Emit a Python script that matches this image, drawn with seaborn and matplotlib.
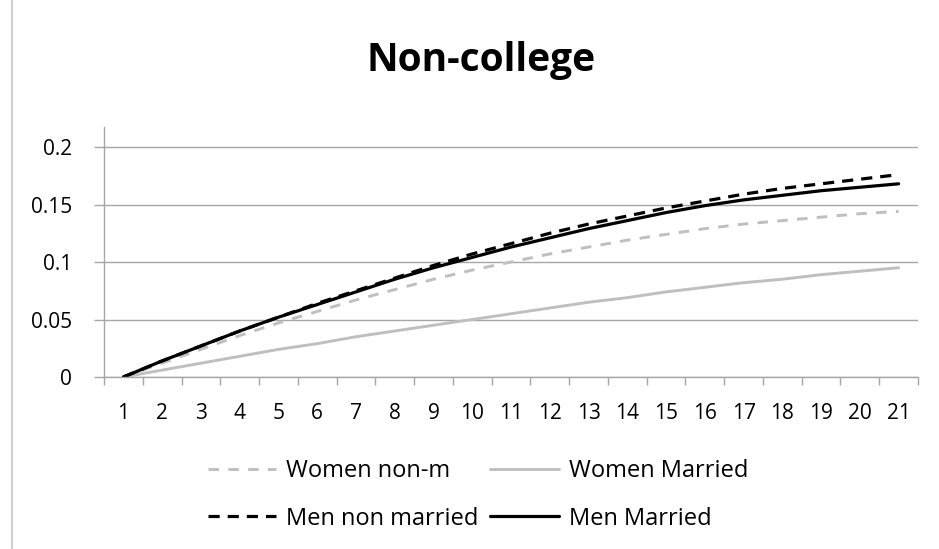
import numpy as np
import pandas as pd
import matplotlib
matplotlib.use('Agg')
import matplotlib.pyplot as plt
from matplotlib.lines import Line2D
import seaborn as sns


######
# Data
######
years = list(range(1, 22))
women_non_m = [0, 0.012, 0.024, 0.036, 0.047, 0.057, 0.067, 0.076, 0.085, 0.093, 0.100,
               0.107, 0.113, 0.119, 0.124, 0.129, 0.133, 0.136, 0.139, 0.142, 0.144]
women_married = [0, 0.006, 0.012, 0.018, 0.024, 0.029, 0.035, 0.040, 0.045, 0.050, 0.055,
                 0.060, 0.065, 0.069, 0.074, 0.078, 0.082, 0.085, 0.089, 0.092, 0.095]
men_non_married = [0, 0.014, 0.027, 0.040, 0.052, 0.064, 0.075, 0.086, 0.097, 0.107, 0.116,
                   0.125, 0.133, 0.140, 0.147, 0.153, 0.159, 0.164, 0.168, 0.172, 0.176]
men_married = [0, 0.014, 0.027, 0.040, 0.052, 0.063, 0.074, 0.085, 0.095, 0.104, 0.113,
               0.121, 0.129, 0.136, 0.143, 0.149, 0.154, 0.158, 0.162, 0.165, 0.168]
series_names = ['Women non-m', 'Women Married', 'Men non married', 'Men Married']
y_ticks = [0, 0.05, 0.1, 0.15, 0.2]
y_tick_labels = ['0', '0.05', '0.1', '0.15', '0.2']

df = pd.DataFrame({
    'year': years * 4,
    'value': women_non_m + women_married + men_non_married + men_married,
    'series': np.repeat(series_names, len(years)),
})

#######
# Style
#######
sns.set_theme(style='white')
plt.rcParams['font.family'] = ['Open Sans', 'DejaVu Sans']
plt.rcParams['text.color'] = 'black'
plt.rcParams['xtick.labelcolor'] = 'black'
plt.rcParams['ytick.labelcolor'] = 'black'

grey = '#bfbfbf'
palette = {'Women non-m': grey, 'Women Married': grey,
           'Men non married': 'black', 'Men Married': 'black'}
dashes = {'Women non-m': (3.6, 3.2), 'Women Married': '',
          'Men non married': (3.5, 2.5), 'Men Married': ''}
widths = {'Women non-m': 2.1, 'Women Married': 2.1,
          'Men non married': 2.3, 'Men Married': 2.3}

fig = plt.figure(figsize=(9.39, 5.49), dpi=100)
ax = fig.add_axes([104 / 939, 1 - 377 / 549, (918 - 104) / 939, (377 - 127) / 549])

sns.lineplot(data=df, x='year', y='value', hue='series', style='series',
             palette=palette, dashes=dashes, hue_order=series_names,
             style_order=series_names, ax=ax, legend=False)
for line, name in zip(ax.get_lines(), series_names):
    line.set_linewidth(widths[name])

ax.set_xlim(0.5, 21.5)
ax.set_ylim(0, 0.2174)
ax.set_xticks(years)
ax.set_xticklabels([str(y) for y in years], fontsize=15)
ax.set_xticks(np.arange(0.5, 22, 1), minor=True)
ax.tick_params(axis='x', which='major', length=0, pad=19)
ax.tick_params(axis='x', which='minor', length=6, color='#a6a6a6', width=1, direction='out', bottom=True)
ax.set_yticks(y_ticks)
ax.set_yticklabels(y_tick_labels, fontsize=15)
ax.tick_params(axis='y', length=7, color='#a6a6a6', width=1, direction='out', left=True, pad=16)
ax.yaxis.grid(True, color='#a6a6a6', linewidth=1)
ax.set_axisbelow(True)
for side in ['top', 'right']:
    ax.spines[side].set_visible(False)
for side in ['left', 'bottom']:
    ax.spines[side].set_color('#a6a6a6')
    ax.spines[side].set_linewidth(1)
ax.set_xlabel('')
ax.set_ylabel('')

fig.text(0.512, 1 - 60 / 549, 'Non-college', ha='center', va='center',
         fontsize=28, fontweight='bold', color='black')

# legend fills column-wise, so order gives rows: women / men
legend_order = ['Women non-m', 'Men non married', 'Women Married', 'Men Married']
handles = [Line2D([], [], color=palette[n], linewidth=widths[n],
                  dashes=dashes[n] if dashes[n] else (None, None)) for n in legend_order]
fig.legend(handles, legend_order, ncol=2, loc='center',
           bbox_to_anchor=(478 / 939, 1 - 495 / 549), frameon=False, fontsize=17,
           handlelength=2.9, columnspacing=0.5, handletextpad=0.42, labelspacing=0.98,
           labelcolor='black')

fig.add_artist(Line2D([12 / 939, 12 / 939], [0, 1], color='#d0d0d0', linewidth=1.5))

fig.savefig('out.png', dpi=100)
